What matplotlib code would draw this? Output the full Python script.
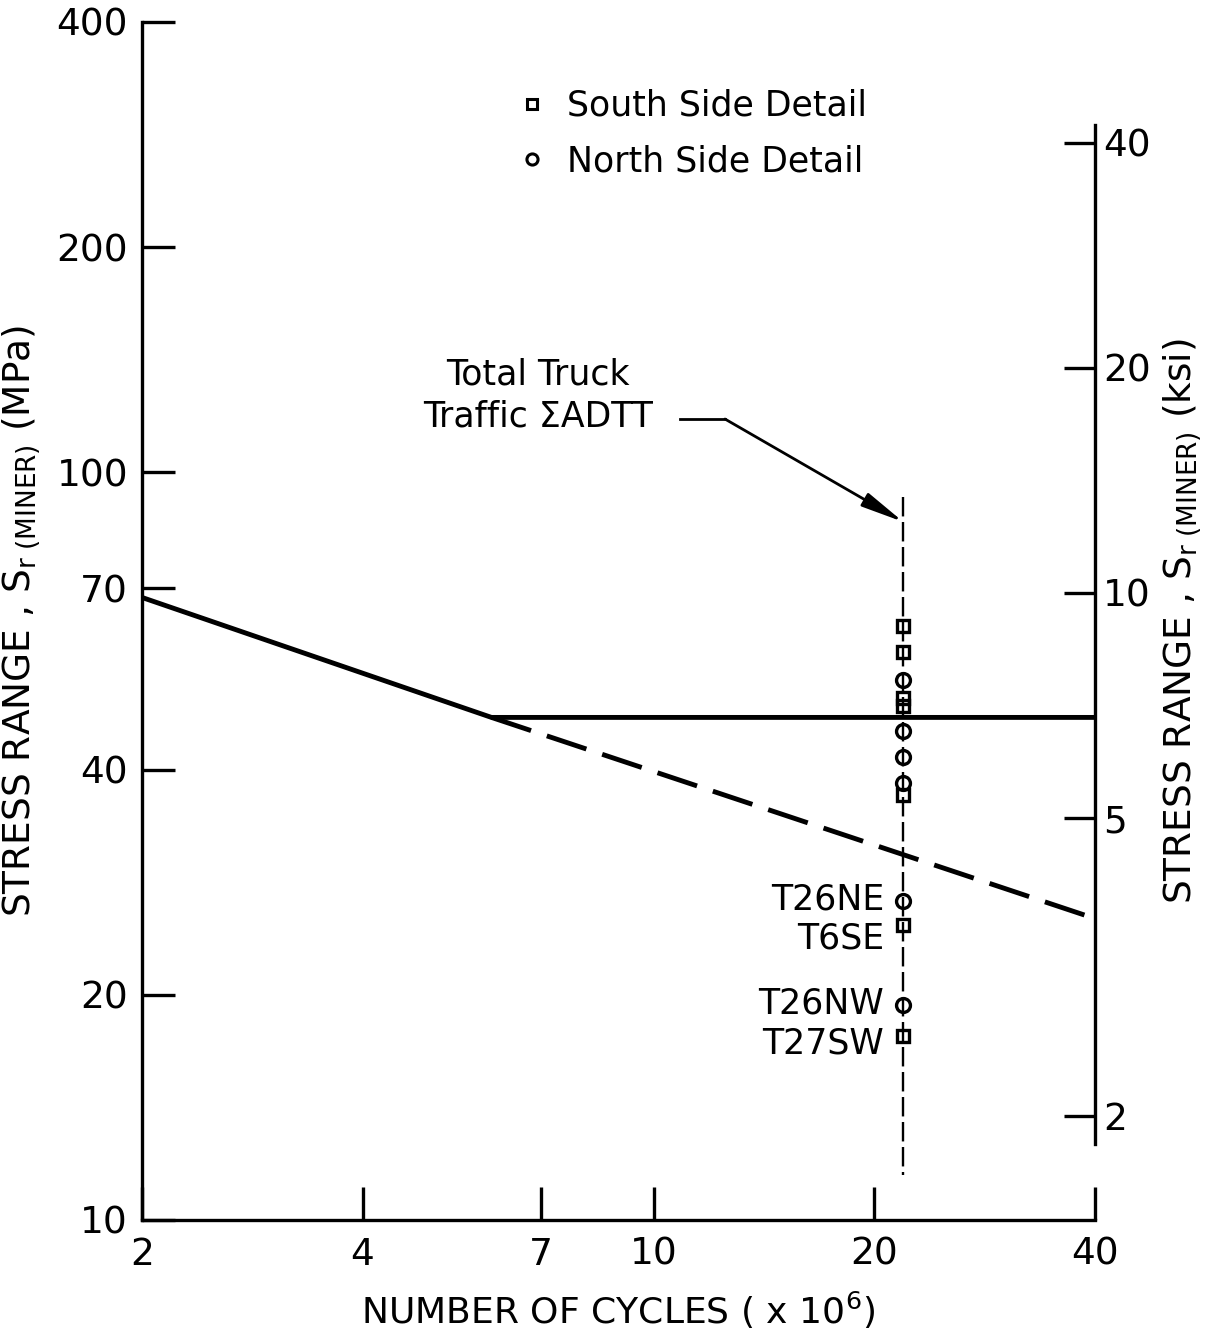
import matplotlib
matplotlib.use('Agg')
import matplotlib.pyplot as plt
from matplotlib.lines import Line2D

plt.rcParams['font.family'] = ['DejaVu Sans']
plt.rcParams['mathtext.fontset'] = 'dejavusans'
plt.rcParams['lines.scale_dashes'] = False

# ---- data ----
sn_cycles = [2, 6, 40]            # x 10^6
sn_stress = [68, 47, 47]          # MPa (solid, with threshold)
sn_ext_cycles = [6, 40]
sn_ext_stress = [47, 25.3]        # MPa (dashed extension)

adtt_cycles = 21.9                # x 10^6
adtt_line_stress = [92.6, 11.5]   # MPa extent of vertical line
adtt_arrow_stress = 85.8

south_stress = [62.3, 57.5, 49.9, 48.7, 37.0, 24.8, 17.6]
north_stress = [52.7, 45.1, 41.6, 38.4, 26.7, 19.4]

point_labels = ['T26NE', 'T6SE', 'T26NW', 'T27SW']
point_label_stress = [26.7, 24.8, 19.4, 17.6]
point_label_dy = [1, -10, 1, -5]   # points, vertical offset of label text

x_ticks = [2, 4, 7, 10, 20, 40]
y_ticks_mpa = [10, 20, 40, 70, 100, 200, 400]
y_ticks_ksi = [2, 5, 10, 20, 40]
MPA_PER_KSI = 6.895

fig = plt.figure(figsize=(12.2, 13.28), dpi=100)
ax = fig.add_axes([142/1220, 108/1328, 953/1220, 1198/1328])
ax.set_xscale('log')
ax.set_yscale('log')
ax.set_xlim(2, 40)
ax.set_ylim(10, 400)

for s in ['top', 'right']:
    ax.spines[s].set_visible(False)
for s in ['left', 'bottom']:
    ax.spines[s].set_linewidth(2.4)

ax.xaxis.set_major_locator(matplotlib.ticker.FixedLocator(x_ticks))
ax.xaxis.set_minor_locator(matplotlib.ticker.NullLocator())
ax.xaxis.set_major_formatter(matplotlib.ticker.FixedFormatter([str(v) for v in x_ticks]))
ax.yaxis.set_major_locator(matplotlib.ticker.FixedLocator(y_ticks_mpa))
ax.yaxis.set_minor_locator(matplotlib.ticker.NullLocator())
ax.yaxis.set_major_formatter(matplotlib.ticker.FixedFormatter([str(v) for v in y_ticks_mpa]))
ax.tick_params(axis='both', direction='in', length=24, width=2.4, labelsize=27)
ax.tick_params(axis='x', pad=12)
ax.tick_params(axis='y', pad=10)

# S-N lines
ax.plot(sn_cycles, sn_stress, color='black', lw=3.5, solid_capstyle='butt', clip_on=False)
ax.plot(sn_ext_cycles, sn_ext_stress, color='black', lw=3.5, dashes=(30, 12),
        solid_capstyle='butt', dash_capstyle='butt', clip_on=False)

# ADTT vertical line
ax.plot([adtt_cycles, adtt_cycles], adtt_line_stress, color='black', lw=1.7,
        dashes=(14, 4))

# data points
ax.plot([adtt_cycles]*len(south_stress), south_stress, ls='none', marker='s', ms=8.5,
        mfc='none', mec='black', mew=2.4)
ax.plot([adtt_cycles]*len(north_stress), north_stress, ls='none', marker='o', ms=10,
        mfc='none', mec='black', mew=2.4)

for lab, s, dy in zip(point_labels, point_label_stress, point_label_dy):
    ax.annotate(lab, (adtt_cycles, s), xytext=(-14, dy), textcoords='offset points',
                ha='right', va='center', fontsize=25)

# annotation text and arrow
ax.text(0.4155, 0.688, 'Total Truck\nTraffic \u03a3ADTT', transform=ax.transAxes,
        ha='center', va='center', fontsize=25, linespacing=1.3)
ax.plot([10.85, 12.5], [117.8, 117.8], color='black', lw=2.0)
ax.annotate('', xy=(adtt_cycles, adtt_arrow_stress), xytext=(12.5, 117.8),
            arrowprops=dict(arrowstyle='-|>,head_length=2.6,head_width=0.45',
                            color='black', lw=2.0, shrinkA=0, shrinkB=0))

# legend
handles = [Line2D([], [], ls='none', marker='s', ms=7, mfc='none', mec='black', mew=2.2),
           Line2D([], [], ls='none', marker='o', ms=8, mfc='none', mec='black', mew=2.2)]
ax.legend(handles, ['South Side Detail', 'North Side Detail'], loc='upper left',
          bbox_to_anchor=((518-142)/953, (1220-89)/1198), frameon=False, fontsize=25,
          handlelength=0.8, handletextpad=0.6, labelspacing=0.62, borderpad=0,
          borderaxespad=0)

ax.set_xlabel('NUMBER OF CYCLES ( x 10$^{6}$)', fontsize=26, labelpad=12)
ax.set_ylabel('STRESS RANGE , S$_{\\mathrm{r\\ (MINER)}}$ (MPa)', fontsize=27, labelpad=10)

# right axis in ksi
ax2 = ax.twinx()
ax2.set_yscale('log')
ax2.set_ylim(10/MPA_PER_KSI, 400/MPA_PER_KSI)
for s in ['top', 'left', 'bottom']:
    ax2.spines[s].set_visible(False)
ax2.spines['right'].set_linewidth(2.4)
ax2.spines['right'].set_bounds(1.83, 42.2)
ax2.yaxis.set_major_locator(matplotlib.ticker.FixedLocator(y_ticks_ksi))
ax2.yaxis.set_minor_locator(matplotlib.ticker.NullLocator())
ax2.yaxis.set_major_formatter(matplotlib.ticker.FixedFormatter([str(v) for v in y_ticks_ksi]))
ax2.tick_params(axis='y', direction='in', length=22, width=2.4, labelsize=27, pad=6)
ax2.set_ylabel('STRESS RANGE , S$_{\\mathrm{r\\ (MINER)}}$ (ksi)', fontsize=27, labelpad=8)

fig.savefig('out.png', dpi=100)
